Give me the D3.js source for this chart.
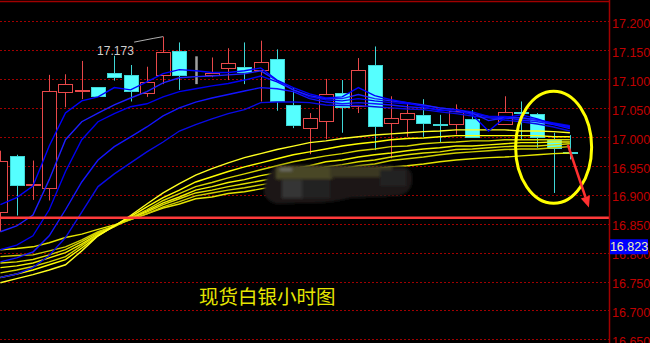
<!DOCTYPE html>
<html>
<head>
<meta charset="utf-8">
<script src="https://cdn.jsdelivr.net/npm/d3@7"></script>
<style>
  html, body { margin: 0; padding: 0; background: #000; }
  svg { display: block; }
</style>
</head>
<body>
<svg id="chart" width="650" height="343"></svg>
<script>
// Hourly bars, index -1 .. 34 (index 29 has no bar)
const barIndex = d3.range(-1, 35);

const opens  = [16.871, 16.966, 16.918, 16.911, 17.078, 17.080, 17.086, 17.111, 17.106, 17.076, 17.106, 17.149, 17.108, 17.106, 17.118, 17.121, 17.117, 17.134, 17.055, 17.015, 17.028, 17.076, 17.053, 17.124, 17.024, 17.031, 17.037, 17.022, 17.022, 17.031, null, 17.022, 17.042, 17.039, 16.997, 16.973];
const highs  = [16.976, 16.969, 16.959, 17.107, 17.108, 17.131, 17.086, 17.140, 17.124, 17.121, 17.173, 17.163, 17.139, 17.137, 17.153, 17.163, 17.166, 17.151, 17.084, 17.041, 17.100, 17.098, 17.136, 17.156, 17.070, 17.058, 17.065, 17.038, 17.056, 17.046, null, 17.070, 17.061, 17.041, 17.007, 17.003];
const lows   = [16.836, 16.864, 16.891, 16.890, 17.051, 17.065, 17.071, 17.097, 17.061, 17.069, 17.091, 17.081, 17.091, 17.103, 17.098, 17.091, 17.061, 17.045, 17.015, 16.970, 16.996, 17.007, 17.041, 16.977, 16.963, 17.000, 17.000, 16.991, 17.004, 16.999, null, 17.022, 16.996, 16.981, 16.903, 16.961];
const closes = [16.959, 16.916, 16.919, 17.079, 17.091, 17.081, 17.071, 17.104, 17.078, 17.095, 17.146, 17.107, 17.108, 17.110, 17.127, 17.112, 17.130, 17.061, 17.021, 17.032, 17.074, 17.051, 17.115, 17.019, 17.032, 17.041, 17.024, 17.021, 17.045, 17.000, null, 17.043, 17.041, 17.000, 16.981, 16.972];

// Short moving averages (blue)
const blue1 = [16.883, 16.895, 16.915, 16.984, 17.041, 17.062, 17.069, 17.085, 17.081, 17.095, 17.109, 17.116, 17.114, 17.111, 17.111, 17.114, 17.119, 17.098, 17.085, 17.074, 17.067, 17.069, 17.085, 17.071, 17.064, 17.059, 17.052, 17.045, 17.047, 17.038, 17.010, 17.033, 17.038, 17.031, 17.022, 17.016];
const blue2 = [16.836, 16.846, 16.865, 16.926, 16.995, 17.026, 17.041, 17.055, 17.067, 17.078, 17.093, 17.102, 17.104, 17.105, 17.107, 17.109, 17.114, 17.097, 17.081, 17.071, 17.066, 17.066, 17.073, 17.066, 17.062, 17.059, 17.055, 17.050, 17.047, 17.041, 17.028, 17.033, 17.033, 17.029, 17.022, 17.017];
const blue3 = [16.805, 16.813, 16.829, 16.874, 16.940, 16.995, 17.026, 17.040, 17.052, 17.057, 17.069, 17.078, 17.083, 17.088, 17.092, 17.098, 17.105, 17.095, 17.081, 17.069, 17.064, 17.062, 17.066, 17.062, 17.059, 17.057, 17.054, 17.050, 17.047, 17.043, 17.035, 17.035, 17.033, 17.029, 17.024, 17.019];
const blue4 = [16.784, 16.791, 16.801, 16.829, 16.874, 16.922, 16.960, 16.983, 17.000, 17.017, 17.036, 17.050, 17.060, 17.067, 17.073, 17.079, 17.085, 17.083, 17.078, 17.066, 17.060, 17.057, 17.059, 17.057, 17.055, 17.052, 17.050, 17.047, 17.043, 17.040, 17.035, 17.033, 17.029, 17.026, 17.021, 17.014];
const blue5 = [16.757, 16.763, 16.774, 16.795, 16.826, 16.870, 16.914, 16.936, 16.955, 16.974, 16.991, 17.010, 17.021, 17.031, 17.040, 17.047, 17.059, 17.060, 17.060, 17.059, 17.055, 17.054, 17.054, 17.052, 17.050, 17.048, 17.047, 17.043, 17.040, 17.036, 17.033, 17.029, 17.026, 17.022, 17.017, 17.010];

// Long moving averages (yellow)
const yellow1 = [16.748, 16.755, 16.762, 16.770, 16.779, 16.803, 16.829, 16.846, 16.864, 16.884, 16.903, 16.919, 16.934, 16.945, 16.955, 16.964, 16.971, 16.978, 16.984, 16.990, 16.993, 16.997, 17.000, 17.003, 17.005, 17.007, 17.009, 17.010, 17.012, 17.012, 17.012, 17.012, 17.010, 17.010, 17.009, 17.007];
const yellow2 = [16.757, 16.763, 16.770, 16.779, 16.788, 16.808, 16.829, 16.846, 16.862, 16.879, 16.895, 16.908, 16.922, 16.931, 16.940, 16.948, 16.955, 16.962, 16.969, 16.974, 16.979, 16.984, 16.988, 16.991, 16.995, 16.997, 16.998, 17.000, 17.002, 17.002, 17.002, 17.002, 17.002, 17.002, 17.000, 17.000];
const yellow3 = [16.765, 16.770, 16.776, 16.784, 16.793, 16.812, 16.831, 16.845, 16.860, 16.874, 16.890, 16.902, 16.914, 16.921, 16.929, 16.936, 16.943, 16.950, 16.957, 16.962, 16.967, 16.971, 16.976, 16.979, 16.983, 16.984, 16.988, 16.990, 16.991, 16.993, 16.993, 16.995, 16.995, 16.995, 16.995, 16.995];
const yellow4 = [16.774, 16.777, 16.782, 16.791, 16.800, 16.815, 16.832, 16.845, 16.859, 16.872, 16.886, 16.896, 16.908, 16.914, 16.921, 16.926, 16.933, 16.938, 16.945, 16.950, 16.957, 16.960, 16.965, 16.969, 16.972, 16.976, 16.979, 16.981, 16.984, 16.984, 16.986, 16.988, 16.990, 16.990, 16.991, 16.991];
const yellow5 = [16.782, 16.784, 16.788, 16.796, 16.805, 16.819, 16.834, 16.846, 16.859, 16.870, 16.883, 16.893, 16.903, 16.908, 16.914, 16.919, 16.924, 16.929, 16.936, 16.941, 16.948, 16.952, 16.957, 16.960, 16.965, 16.969, 16.972, 16.974, 16.978, 16.979, 16.981, 16.983, 16.984, 16.984, 16.986, 16.988];
const yellow6 = [16.793, 16.795, 16.796, 16.803, 16.810, 16.822, 16.836, 16.846, 16.857, 16.867, 16.879, 16.888, 16.898, 16.903, 16.908, 16.912, 16.917, 16.922, 16.929, 16.934, 16.940, 16.945, 16.950, 16.953, 16.959, 16.962, 16.965, 16.969, 16.972, 16.974, 16.976, 16.978, 16.979, 16.979, 16.981, 16.983];
const yellow7 = [16.805, 16.807, 16.810, 16.817, 16.826, 16.832, 16.840, 16.848, 16.857, 16.867, 16.877, 16.884, 16.893, 16.896, 16.902, 16.905, 16.910, 16.915, 16.921, 16.926, 16.933, 16.938, 16.943, 16.945, 16.948, 16.950, 16.953, 16.957, 16.960, 16.962, 16.964, 16.965, 16.967, 16.969, 16.971, 16.972];

const tickValues = [17.200, 17.150, 17.100, 17.050, 17.000, 16.950, 16.900, 16.850, 16.800, 16.750, 16.700, 16.650];
const supportLevel = 16.860;
const lastPriceTag = 16.823;
const titleText = "现货白银小时图";

// ---------- layout ----------
const W = 650, H = 343, plotRight = 609;
const svg = d3.select("#chart");

const x = d3.scaleLinear().domain([-1, 34]).range([0.4, 569.9]);
const y = d3.scaleLinear().domain([16.65, 17.2]).range([339.45, 21]);

svg.append("rect").attr("width", W).attr("height", H).attr("fill", "#000");

const defs = svg.append("defs");
defs.append("clipPath").attr("id", "plotClip")
  .append("rect").attr("x", 0).attr("y", 0).attr("width", plotRight).attr("height", H);
defs.append("filter").attr("id", "smear").attr("x", "-20%").attr("y", "-40%").attr("width", "140%").attr("height", "180%")
  .append("feGaussianBlur").attr("stdDeviation", 1.6);

const plot = svg.append("g").attr("clip-path", "url(#plotClip)");

// dotted horizontal grid
plot.append("g").selectAll("line").data(tickValues).join("line")
  .attr("x1", 0).attr("x2", plotRight)
  .attr("y1", d => Math.round(y(d)) + 0.5).attr("y2", d => Math.round(y(d)) + 0.5)
  .attr("stroke", "#a00000").attr("stroke-width", 1).attr("stroke-dasharray", "2,2");

// candles
const RED = "#e8494a", CYAN = "#55ffff", CYAN_EDGE = "#3fd6d6", GREY = "#a0a0a0";
const bars = barIndex.map((idx, k) => ({
  idx, o: opens[k], h: highs[k], l: lows[k], c: closes[k]
})).filter(d => d.o != null);

const colorOf = d => d.c > d.o ? RED : (d.c < d.o ? CYAN : GREY);
const halfW = 7;

const candleG = plot.append("g");
candleG.selectAll("line.wick").data(bars).join("line")
  .attr("class", "wick")
  .attr("x1", d => Math.round(x(d.idx)) + 0.5).attr("x2", d => Math.round(x(d.idx)) + 0.5)
  .attr("y1", d => y(d.h)).attr("y2", d => y(d.l))
  .attr("stroke", d => d.c < d.o ? CYAN_EDGE : colorOf(d))
  .attr("stroke-width", d => d.c === d.o ? 2.5 : 1);

candleG.selectAll("rect.body").data(bars.filter(d => d.c !== d.o)).join("rect")
  .attr("class", "body")
  .attr("x", d => Math.round(x(d.idx)) - halfW + 0.5)
  .attr("y", d => Math.round(y(Math.max(d.o, d.c))) + 0.5)
  .attr("width", halfW * 2)
  .attr("height", d => Math.max(1, Math.round(Math.abs(y(d.o) - y(d.c)))))
  .attr("fill", d => d.c > d.o ? "#000" : CYAN)
  .attr("stroke", d => d.c > d.o ? RED : CYAN_EDGE)
  .attr("stroke-width", 1);

// moving-average lines
const line = d3.line().x((v, k) => x(barIndex[k])).y(v => y(v)).defined(v => v != null);

const yellowSeries = [yellow7, yellow6, yellow5, yellow4, yellow3, yellow2, yellow1];
const yellowColors = ["#e6e600", "#cfcf00", "#dede00", "#f2f200", "#d6d600", "#ffff00", "#ffff20"];
plot.append("g").selectAll("path").data(yellowSeries).join("path")
  .attr("d", d => line(d)).attr("fill", "none")
  .attr("stroke", (d, i) => yellowColors[i]).attr("stroke-width", 1.4);

const blueSeries = [blue5, blue4, blue3, blue2, blue1];
const blueColors = ["#0a0ae6", "#1414ff", "#0000f0", "#1e1eff", "#0000ff"];
plot.append("g").selectAll("path").data(blueSeries).join("path")
  .attr("d", d => line(d)).attr("fill", "none")
  .attr("stroke", (d, i) => blueColors[i]).attr("stroke-width", 1.4);

// smeared patch over the lower middle
const smear = plot.append("g").attr("filter", "url(#smear)");
smear.append("path")
  .attr("d", "M272,170 Q276,164 300,165 L400,166 Q414,168 412,182 Q410,196 392,196 L350,198 Q330,204 300,203 L278,204 Q262,200 264,188 Q265,176 272,170 Z")
  .attr("fill", "#1a1916");
smear.append("rect").attr("x", 276).attr("y", 166).attr("width", 56).attr("height", 13).attr("fill", "#4a4626");
smear.append("rect").attr("x", 330).attr("y", 166).attr("width", 62).attr("height", 11).attr("fill", "#3a3822");
smear.append("rect").attr("x", 282).attr("y", 180).attr("width", 20).attr("height", 18).attr("fill", "#363634");
smear.append("rect").attr("x", 302).attr("y", 180).attr("width", 28).attr("height", 18).attr("fill", "#222220");
smear.append("rect").attr("x", 380).attr("y", 170).attr("width", 26).attr("height", 16).attr("fill", "#242424");
smear.append("rect").attr("x", 280).attr("y", 168).attr("width", 12).attr("height", 3).attr("fill", "#707066");

// support line
plot.append("line")
  .attr("x1", 0).attr("x2", plotRight)
  .attr("y1", y(supportLevel)).attr("y2", y(supportLevel))
  .attr("stroke", "#ff3a3a").attr("stroke-width", 2.5);

// high annotation
const peakIdx = highs.indexOf(d3.max(highs));
const peakX = x(barIndex[peakIdx]), peakY = y(highs[peakIdx]);
plot.append("path")
  .attr("d", `M${peakX - 29},${peakY + 5.5} L${peakX - 10},${peakY + 1.8} L${peakX},${peakY}`)
  .attr("fill", "none").attr("stroke", "#b0b0b0").attr("stroke-width", 1);
plot.append("text")
  .attr("x", peakX - 66).attr("y", peakY + 18)
  .attr("font-family", "'Liberation Sans', Arial, sans-serif").attr("font-size", 12)
  .attr("fill", "#cfcfcf")
  .text(d3.format(".3f")(highs[peakIdx]));

// circled area and arrow
plot.append("ellipse")
  .attr("cx", x(33)).attr("cy", y(16.982)).attr("rx", 38).attr("ry", 56)
  .attr("fill", "none").attr("stroke", "#ffff00").attr("stroke-width", 3);

const ax0 = x(34) - 2, ay0 = y(16.986), ax1 = x(34) + 19, ay1 = y(16.878);
const len = Math.hypot(ax1 - ax0, ay1 - ay0);
const ux = (ax1 - ax0) / len, uy = (ay1 - ay0) / len;
const bx = ax1 - ux * 11, by = ay1 - uy * 11;
plot.append("line")
  .attr("x1", ax0).attr("y1", ay0).attr("x2", bx).attr("y2", by)
  .attr("stroke", "#ff3030").attr("stroke-width", 2.5);
plot.append("polygon")
  .attr("points", [[ax1, ay1], [bx - uy * 4.8, by + ux * 4.8], [bx + uy * 4.8, by - ux * 4.8]].map(p => p.join(",")).join(" "))
  .attr("fill", "#ff3030");

// title
plot.append("text")
  .attr("x", 199).attr("y", 304)
  .attr("font-family", "'Noto Sans CJK SC', sans-serif").attr("font-size", 19.5)
  .attr("fill", "#e6e600")
  .text(titleText);

// frame: top border and right price axis
svg.append("line").attr("x1", 0).attr("x2", plotRight + 0.5).attr("y1", 1.5).attr("y2", 1.5)
  .attr("stroke", "#a00000").attr("stroke-width", 1.5);
svg.append("line").attr("x1", plotRight + 0.5).attr("x2", plotRight + 0.5).attr("y1", 0).attr("y2", H)
  .attr("stroke", "#a00000").attr("stroke-width", 1.5);

const axis = d3.axisRight(y).tickValues(tickValues).tickFormat(d3.format(".3f")).tickSize(0).tickPadding(3);
const axisG = svg.append("g").attr("transform", `translate(${plotRight},0)`).call(axis);
axisG.select(".domain").remove();
axisG.selectAll("text")
  .attr("font-family", "'Liberation Sans', Arial, sans-serif").attr("font-size", 12.5)
  .attr("fill", "#c00000").attr("dy", "0.62em").attr("y", -1.5);

// last price tag
const tagY = y(lastPriceTag);
svg.append("rect").attr("x", 610).attr("y", tagY).attr("width", 38).attr("height", 15).attr("fill", "#0000ff");
svg.append("text").attr("x", 629).attr("y", tagY + 12)
  .attr("text-anchor", "middle")
  .attr("font-family", "'Liberation Sans', Arial, sans-serif").attr("font-size", 12.5)
  .attr("fill", "#f4f4b0")
  .text(d3.format(".3f")(lastPriceTag));
</script>
</body>
</html>
